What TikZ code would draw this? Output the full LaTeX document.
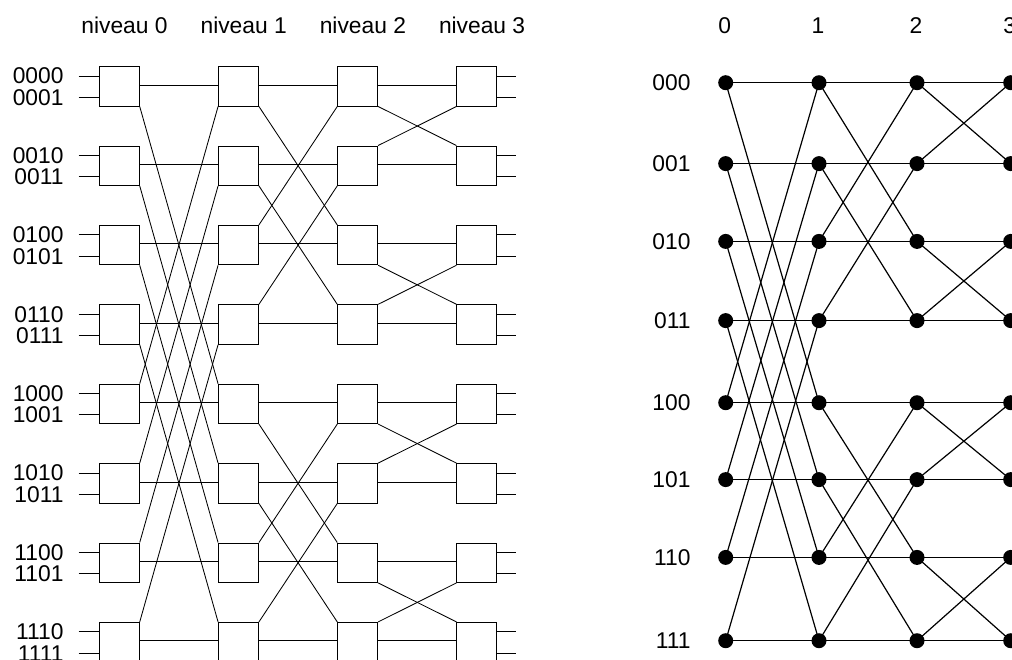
\documentclass[tikz,border=0pt]{standalone}
\usepackage{fontspec}
\setmainfont{Liberation Sans}
\begin{document}
\begin{tikzpicture}[x=1pt,y=-1pt,
  lbl/.style={font=\fontsize{22.8}{27}\selectfont, inner sep=0pt},
  swbox/.style={draw, line width=0.85pt, minimum width=40pt, minimum height=39.5pt, inner sep=0pt},
  bwire/.style={line width=0.85pt},
  link/.style={line width=1.2pt},
  vtx/.style={circle, fill, inner sep=0pt, minimum size=15pt}]
\useasboundingbox (0,0) rectangle (1012,659);
\clip (0,0) rectangle (1012,659);
% ---------- left: switch network ----------
\foreach \L in {0,...,3}
  \node[lbl, anchor=base] (h\L) at ({124.5+119.2*\L},33) {niveau \L};
\foreach \L in {0,...,3}
  \foreach \k in {0,...,7}
    \node[swbox] (b\L-\k) at ({119.3+119.2*\L},{86.3+79.4*\k}) {};
% inputs / outputs
\foreach \k/\a/\b in {0/0000/0001,1/0010/0011,2/0100/0101,3/0110/0111,4/1000/1001,5/1010/1011,6/1100/1101,7/1110/1111} {
  \coordinate (ia\k) at (78.5,{76+79.4*\k});
  \coordinate (ib\k) at (78.5,{97.3+79.4*\k});
  \coordinate (oa\k) at (515.5,{76+79.4*\k});
  \coordinate (ob\k) at (515.5,{97.3+79.4*\k});
  \draw[bwire] (ia\k) -- (ia\k -| b0-\k.west);
  \draw[bwire] (ib\k) -- (ib\k -| b0-\k.west);
  \draw[bwire] (oa\k -| b3-\k.east) -- (oa\k);
  \draw[bwire] (ob\k -| b3-\k.east) -- (ob\k);
  \node[lbl, anchor=base east] (la\k) at (63.7,{83.9+79.4*\k}) {\a};
  \node[lbl, anchor=base east] (lb\k) at (63.7,{105.2+79.4*\k}) {\b};
}
% connections between levels
\foreach \L/\m in {0/4,1/2,2/1} {
  \pgfmathtruncatemacro\n{\L+1}
  \foreach \k in {0,...,7} {
    \draw[bwire] ([yshift=1.3pt]b\L-\k.east) -- ([yshift=1.3pt]b\n-\k.west);
    \pgfmathtruncatemacro\isup{ifthenelse(mod(floor(\k/\m),2)==0,1,0)}
    \ifnum\isup=1
      \pgfmathtruncatemacro\q{\k+\m}
      \draw[bwire] (b\L-\k.south east) -- (b\n-\q.north west);
      \draw[bwire] (b\L-\q.north east) -- (b\n-\k.south west);
    \fi
  }
}
% ---------- right: butterfly graph ----------
\foreach \c/\x in {0/725.7,1/819,2/917,3/1010.7} {
  \node[lbl, anchor=base] (cl\c) at ({\x-1},33) {\c};
  \foreach \r/\y in {0/82.7,1/163.6,2/241.4,3/320.6,4/402.7,5/479.6,6/557.4,7/640.7}
    \coordinate (p\c-\r) at (\x,\y);
}
\foreach \r/\y/\t in {0/82.7/000,1/163.6/001,2/241.4/010,3/320.6/011,4/402.7/100,5/479.6/101,6/557.4/110,7/640.7/111}
  \node[lbl, anchor=base east] (rl\r) at (690.7,{\y+7.9}) {\t};
\foreach \c/\m in {0/4,1/2,2/1} {
  \pgfmathtruncatemacro\n{\c+1}
  \foreach \r in {0,...,7} {
    \pgfmathtruncatemacro\q{ifthenelse(mod(floor(\r/\m),2)==0,\r+\m,\r-\m)}
    \draw[link] (p\c-\r) -- (p\n-\r);
    \draw[link] (p\c-\r) -- (p\n-\q);
  }
}
\foreach \c in {0,...,3}
  \foreach \r in {0,...,7}
    \node[vtx] (d\c-\r) at (p\c-\r) {};
\end{tikzpicture}
\end{document}
